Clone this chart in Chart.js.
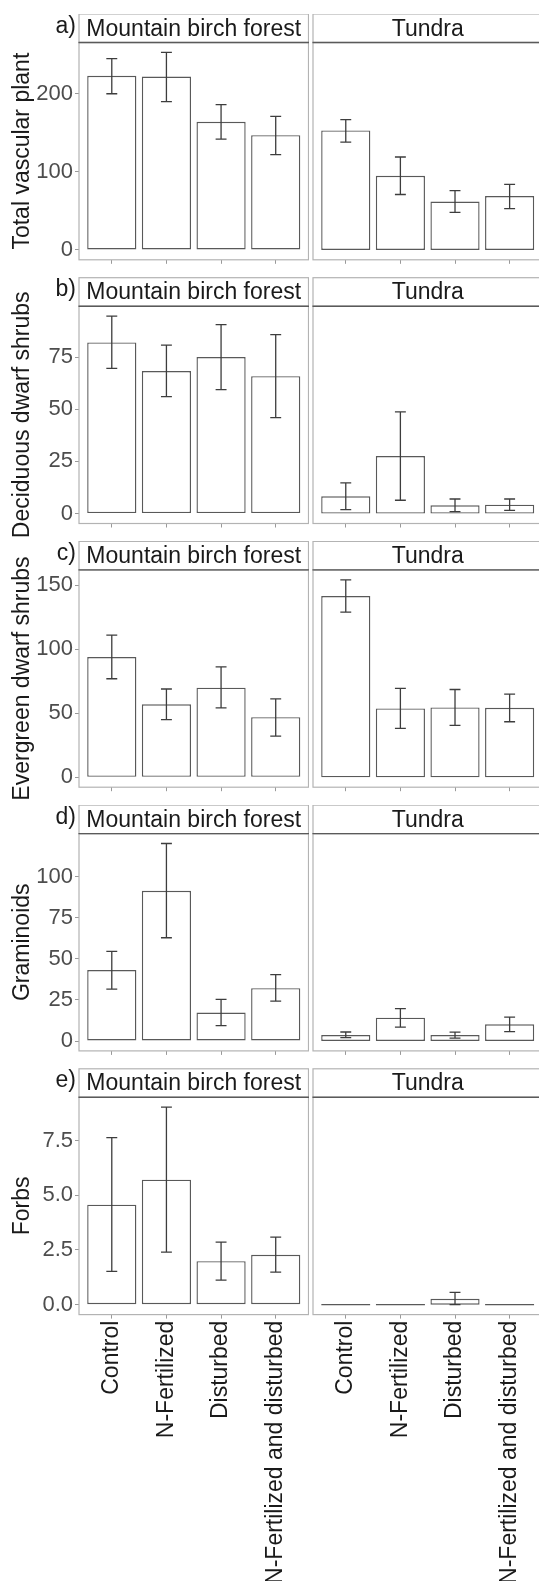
<!DOCTYPE html>
<html>
<head>
<meta charset="utf-8">
<script src="https://cdn.jsdelivr.net/npm/chart.js@4.4.1/dist/chart.umd.min.js"></script>
<style>
  html, body { margin: 0; padding: 0; background: #fff; overflow: hidden; }
  body { position: relative; width: 539px; height: 1581px; }
  canvas { position: absolute; }
</style>
</head>
<body>
<script>
// ---- data ----
const treatments = ['Control', 'N-Fertilized', 'Disturbed', 'N-Fertilized and disturbed'];
const habitats = ['Mountain birch forest', 'Tundra'];
const panelTags = ['a)', 'b)', 'c)', 'd)', 'e)'];
const yTitles = ['Total vascular plant', 'Deciduous dwarf shrubs', 'Evergreen dwarf shrubs', 'Graminoids', 'Forbs'];
const yTickLabels = [
  ['0', '100', '200'],
  ['0', '25', '50', '75'],
  ['0', '50', '100', '150'],
  ['0', '25', '50', '75', '100'],
  ['0.0', '2.5', '5.0', '7.5']
];

// [birch forest, tundra] per group
const totalMean = [[223, 222, 164, 147], [153, 95, 62, 69]];
const totalLow  = [[200, 190, 142, 122], [138, 71, 48, 53]];
const totalHigh = [[245, 253, 186, 171], [167, 119, 76, 84]];

const decidMean = [[82, 68.3, 75, 65.8], [8.3, 27.6, 4, 4.3]];
const decidLow  = [[69.6, 56, 59.4, 46], [1.9, 6.4, 1, 1.6]];
const decidHigh = [[94.6, 80.7, 90.5, 85.7], [14.7, 48.7, 7, 7]];

const everMean = [[94, 57, 70, 47], [141.6, 53.8, 54.6, 54.3]];
const everLow  = [[77, 45, 54.3, 32.2], [129, 38.2, 40.5, 43.4]];
const everHigh = [[111, 69, 86.3, 61.3], [154.3, 69.4, 68.6, 65]];

const gramMean = [[43.2, 91.5, 17.3, 32.2], [3.6, 14.2, 3.6, 10.2]];
const gramLow  = [[31.6, 62.9, 9.4, 24.3], [2.1, 8.5, 1.8, 5.7]];
const gramHigh = [[54.6, 120.3, 25.4, 40.4], [5.5, 19.7, 5.4, 14.6]];

const forbMean = [[4.57, 5.71, 1.99, 2.28], [0, 0, 0.27, 0]];
const forbLow  = [[1.52, 2.40, 1.12, 1.49], [0, 0, 0, 0]];
const forbHigh = [[7.63, 9.02, 2.86, 3.09], [0, 0, 0.56, 0]];

const means = [totalMean, decidMean, everMean, gramMean, forbMean];
const lows  = [totalLow, decidLow, everLow, gramLow, forbLow];
const highs = [totalHigh, decidHigh, everHigh, gramHigh, forbHigh];

// ---- layout ----
const ROW0 = 14, ROW_STEP = 263.7, STRIP_H = 28.5, PLOT_H = 217.3;
const PAGE_H = 1581;
const FONT = "'Liberation Sans', Arial, sans-serif";
const TXT = '#1a1a1a';
const PANEL_LINE = '#b3b3b3';

const panelMeta = {};

// strips, panel borders, error bars, y titles, tags
const facetPlugin = {
  id: 'facet',
  afterDatasetsDraw(chart) {
    const m = panelMeta[chart.canvas.id];
    if (!m) return;
    const ctx = chart.ctx;
    const x = chart.scales.x, y = chart.scales.y;
    ctx.save();
    ctx.strokeStyle = '#3d3d3d';
    ctx.lineWidth = 1.3;
    m.lo.forEach((lo, i) => {
      const hi = m.hi[i];
      if (hi === lo) return;
      const cx = x.getPixelForValue(i);
      const x0 = x.getPixelForValue(i - 0.1), x1 = x.getPixelForValue(i + 0.1);
      const y0 = y.getPixelForValue(lo), y1 = y.getPixelForValue(hi);
      ctx.beginPath();
      ctx.moveTo(cx, y0); ctx.lineTo(cx, y1);
      ctx.moveTo(x0, y0); ctx.lineTo(x1, y0);
      ctx.moveTo(x0, y1); ctx.lineTo(x1, y1);
      ctx.stroke();
    });
    ctx.restore();
  },
  afterDraw(chart) {
    const m = panelMeta[chart.canvas.id];
    if (!m) return;
    const ctx = chart.ctx;
    const a = chart.chartArea;
    ctx.save();
    // panel border
    ctx.strokeStyle = PANEL_LINE;
    ctx.lineWidth = 1.2;
    ctx.strokeRect(a.left, a.top, a.right - a.left, a.bottom - a.top);
    // strip
    const st = a.top - STRIP_H;
    ctx.fillStyle = '#fff';
    ctx.fillRect(a.left, st, a.right - a.left, STRIP_H);
    ctx.strokeRect(a.left, st, a.right - a.left, STRIP_H);
    ctx.strokeStyle = '#5a5a5a';
    ctx.lineWidth = 1.4;
    ctx.beginPath();
    ctx.moveTo(a.left - 0.5, a.top); ctx.lineTo(a.right + 0.5, a.top);
    ctx.stroke();
    ctx.fillStyle = TXT;
    ctx.font = '23px ' + FONT;
    ctx.textAlign = 'center';
    ctx.textBaseline = 'middle';
    ctx.fillText(m.strip, (a.left + a.right) / 2, st + STRIP_H / 2 + 1);
    if (m.tag) {
      ctx.textAlign = 'right';
      ctx.fillText(m.tag, a.left - 3, st + STRIP_H / 2 - 2);
      ctx.translate(22.3, (a.top + a.bottom) / 2);
      ctx.rotate(-Math.PI / 2);
      ctx.textAlign = 'center';
      ctx.fillText(m.yTitle, 0, 0);
    }
    ctx.restore();
  }
};

function makePanel(r, h) {
  const rowTop = ROW0 + r * ROW_STEP;
  const canvasTop = Math.floor(rowTop);
  const nextTop = r < 4 ? Math.floor(ROW0 + (r + 1) * ROW_STEP) : PAGE_H;
  const cH = nextTop - canvasTop;
  const isLeft = h === 0;
  const isBottom = r === 4;
  const cLeft = isLeft ? 0 : 309;
  const cW = isLeft ? 309 : 240;
  const padTop = rowTop + STRIP_H - canvasTop;
  const xH = cH - padTop - PLOT_H;

  const canvas = document.createElement('canvas');
  canvas.id = 'p' + r + h;
  canvas.width = cW;
  canvas.height = cH;
  canvas.style.left = cLeft + 'px';
  canvas.style.top = canvasTop + 'px';
  document.body.appendChild(canvas);

  panelMeta[canvas.id] = {
    lo: lows[r][h], hi: highs[r][h],
    strip: habitats[h],
    tag: isLeft ? panelTags[r] : null,
    yTitle: yTitles[r]
  };

  const top = Math.max(...highs[r][0], ...highs[r][1]);
  const tickLabels = yTickLabels[r];

  new Chart(canvas, {
    type: 'bar',
    data: {
      datasets: [{
        data: means[r][h].map((v, i) => ({ x: i, y: v })),
        backgroundColor: '#ffffff',
        borderColor: '#595959',
        borderWidth: 1.4,
        borderSkipped: false,
        minBarLength: 1.5,
        barPercentage: 0.9,
        categoryPercentage: 1
      }]
    },
    options: {
      responsive: false,
      animation: false,
      devicePixelRatio: 1,
      events: [],
      layout: {
        padding: { top: padTop, bottom: 0, left: isLeft ? 0 : 4, right: isLeft ? 0.5 : 6.6 }
      },
      plugins: { legend: { display: false }, tooltip: { enabled: false } },
      scales: {
        x: {
          type: 'linear',
          offset: false,
          min: -0.6,
          max: 3.6,
          afterBuildTicks: axis => { axis.ticks = treatments.map((_, i) => ({ value: i })); },
          afterFit: axis => { axis.height = xH; },
          ticks: {
            display: isBottom,
            autoSkip: false,
            minRotation: 90,
            maxRotation: 90,
            padding: 2,
            color: TXT,
            font: { family: FONT, size: 23 },
            callback: (v, i) => treatments[i]
          },
          grid: { display: true, offset: false, drawOnChartArea: false, drawTicks: true, tickLength: 4, color: '#999' },
          border: { display: false }
        },
        y: {
          display: isLeft,
          min: -0.05 * top,
          max: 1.05 * top,
          afterBuildTicks: axis => { axis.ticks = tickLabels.map(t => ({ value: Number(t) })); },
          afterFit: axis => { if (isLeft) axis.width = 79; },
          ticks: {
            padding: 2,
            color: '#4d4d4d',
            font: { family: FONT, size: 22 },
            callback: (v, i) => tickLabels[i]
          },
          grid: { display: true, drawOnChartArea: false, drawTicks: true, tickLength: 4, color: '#999' },
          border: { display: false }
        }
      }
    },
    plugins: [facetPlugin]
  });
}

for (let r = 0; r < 5; r++) {
  for (let h = 0; h < 2; h++) makePanel(r, h);
}
</script>
</body>
</html>
